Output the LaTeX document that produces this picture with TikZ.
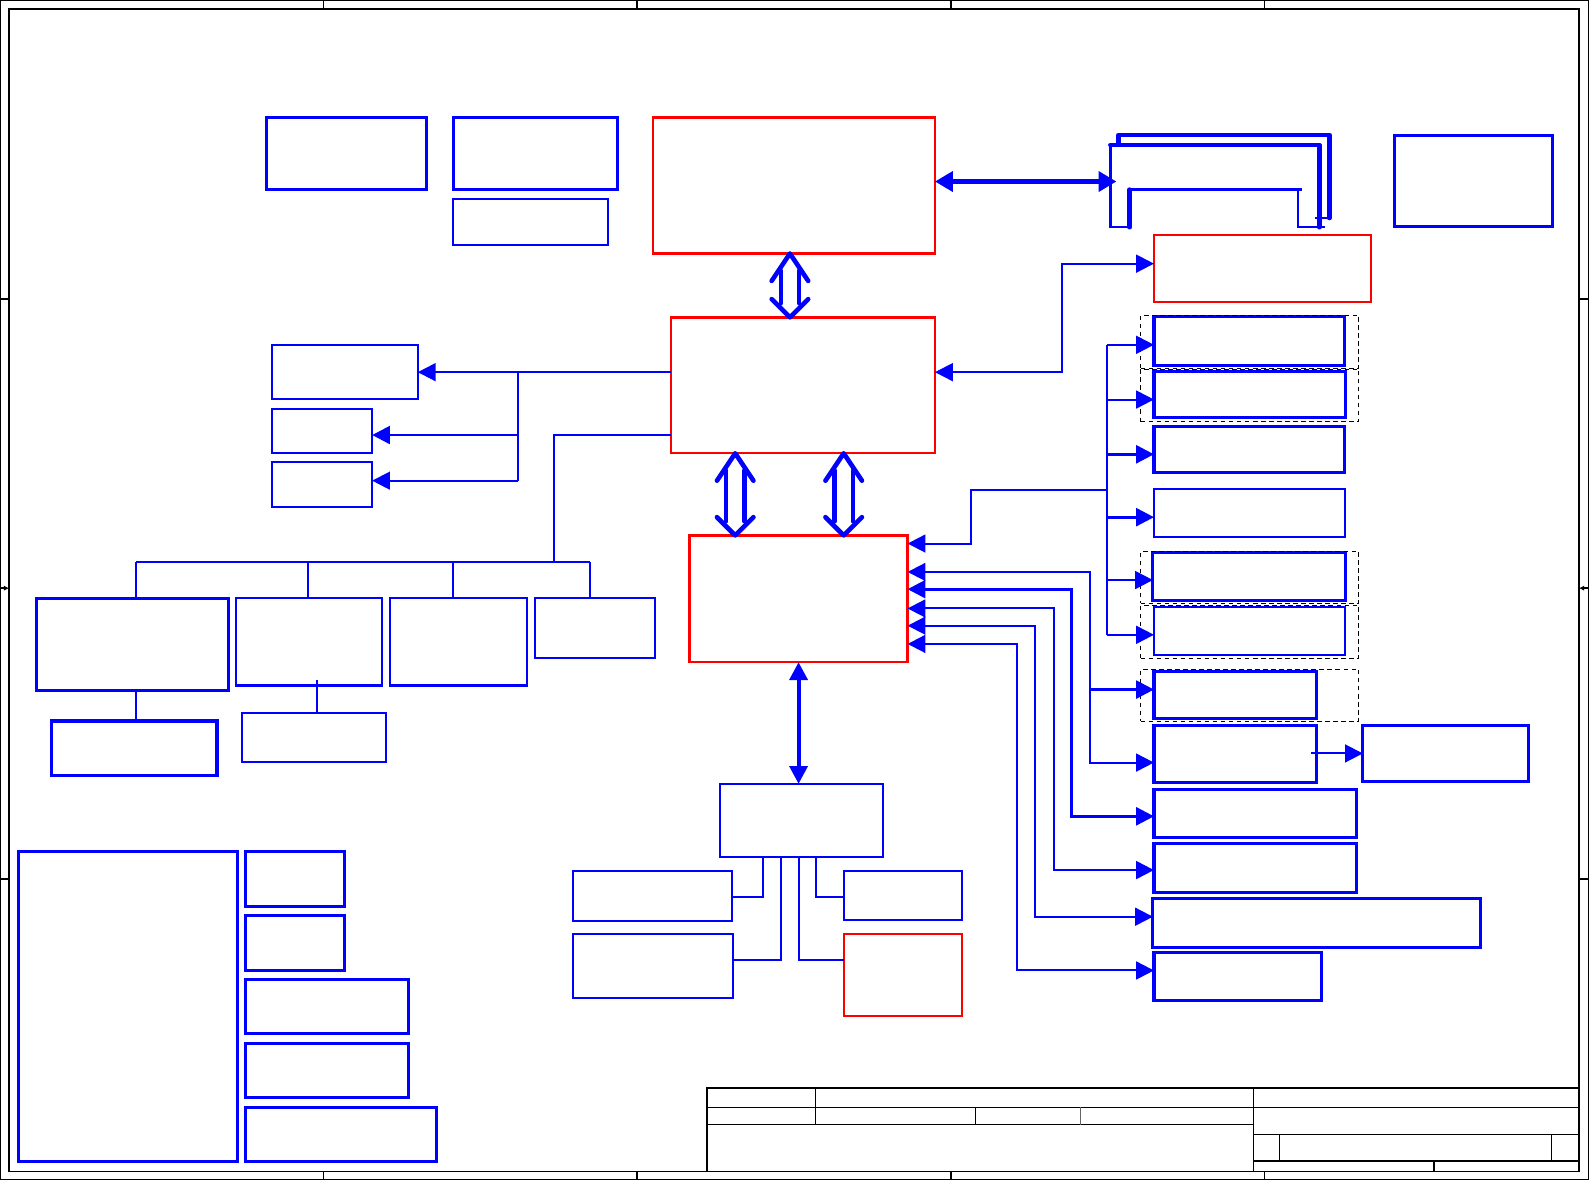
\documentclass[tikz,border=0pt]{standalone}
\usetikzlibrary{arrows.meta}
\newcommand{\bxn}[6]{\node[#2, minimum width={(#5-#3)*0.02cm}, minimum height={(#6-#4)*0.02cm}, anchor=north west] (#1) at (#3,#4) {};}
\newcommand{\dblarr}[2]{\begin{scope}[shift={(#1)}]
 \draw[dbl] (-18,27) -- (0,0) -- (18,27);
 \draw[dbl] (-9,17) -- (-9,{#2-14});
 \draw[dbl] (9,17) -- (9,{#2-14});
 \draw[dbl] (-18,{#2-18}) -- (0,#2) -- (18,{#2-18});
\end{scope}}
\begin{document}
\begin{tikzpicture}[x=0.02cm, y=-0.02cm,
 bb/.style={draw=blue, line width=1.7pt, inner sep=0pt, outer sep=0pt},
 bm/.style={draw=blue, line width=1.15pt, inner sep=0pt, outer sep=0pt},
 rb/.style={draw=red, line width=1.3pt, inner sep=0pt, outer sep=0pt},
 grp/.style={draw=black, dash pattern=on 2.5pt off 2pt, line width=0.5pt, inner sep=0pt, outer sep=0pt},
 conn/.style={draw=blue, line width=1.15pt},
 connb/.style={draw=blue, line width=1.6pt},
 busar/.style={draw=blue, line width=2.8pt, >={Triangle[length=10pt,width=11pt]}},
 busarb/.style={draw=blue, line width=2.2pt, >={Triangle[length=10pt,width=10pt]}},
 clthick/.style={draw=blue, line width=2.6pt, line cap=round, line join=round},
 clthin/.style={draw=blue, line width=1.3pt},
 dbl/.style={draw=blue, line width=2.6pt, line cap=round, line join=round},
 frame/.style={draw=black, line width=0.8pt},
 thinframe/.style={draw=black!60, line width=0.4pt},
 >={Triangle[length=10pt,width=10pt]}]
\useasboundingbox (0,0) rectangle (1567,1164);
% sheet frame
\draw[frame] (0.7,0.7) rectangle (1566.3,1163.3);
\draw[frame] (9,9) rectangle (1557,1155);
\foreach \x in {319,628,938,1247} {\draw[frame] (\x,0) -- (\x,9); \draw[frame] (\x,1155) -- (\x,1164);}
\foreach \y in {295,867} {\draw[frame] (0,\y) -- (9,\y); \draw[frame] (1557,\y) -- (1567,\y);}
\draw[frame,-{Latex[length=3pt,width=3pt]}] (0,580) -- (9,580);
\draw[frame,-{Latex[length=3pt,width=3pt]}] (1567,580) -- (1557,580);
% title block
\draw[frame] (697,1155) -- (697,1073) -- (1557,1073);
\draw[frame] (697,1092) -- (1557,1092);
\draw[frame] (697,1109) -- (1236,1109);
\draw[frame] (804,1073) -- (804,1109);
\draw[frame] (962,1092) -- (962,1109);
\draw[thinframe] (1065,1092) -- (1065,1109);
\draw[frame] (1236,1073) -- (1236,1155);
\draw[frame] (1236,1119) -- (1557,1119);
\draw[frame] (1236,1145) -- (1557,1145);
\draw[frame] (1262,1119) -- (1262,1145);
\draw[frame] (1530,1119) -- (1530,1145);
\draw[frame] (1414,1145) -- (1414,1155);
% boxes
\bxn{b1}{bb}{263}{116}{421}{187}
\bxn{b2}{bb}{447}{116}{609}{187}
\bxn{b3}{bm}{447}{196}{600}{242}
\bxn{r1}{rb}{644}{116}{922}{250}
\bxn{b4}{bb}{1375}{134}{1531}{223}
\bxn{r2}{rb}{1138}{232}{1352}{298}
\bxn{r3}{rb}{662}{313}{922}{447}
\bxn{b5}{bm}{268}{340}{412}{393}
\bxn{b6}{bm}{268}{403}{367}{447}
\bxn{b7}{bm}{268}{456}{367}{500}
\bxn{b8}{bb}{36}{590}{225}{681}
\bxn{b9}{bm}{233}{590}{377}{676}
\bxn{b10}{bm}{385}{590}{520}{676}
\bxn{b11}{bm}{528}{590}{646}{649}
\bxn{b12}{bb}{51}{711}{214}{765}
\bxn{b13}{bm}{239}{703}{381}{751}
\bxn{r4}{rb}{680}{528}{895}{653}
\bxn{b14}{bm}{710}{773}{871}{845}
\bxn{b15}{bm}{565}{859}{722}{908}
\bxn{b16}{bm}{565}{921}{723}{984}
\bxn{b17}{bm}{832}{859}{949}{907}
\bxn{r5}{rb}{832}{921}{949}{1002}
\bxn{c1}{bb}{1138}{312}{1326}{360}
\bxn{c2}{bb}{1138}{366}{1327}{412}
\bxn{c3}{bb}{1138}{421}{1326}{466}
\bxn{c4}{bm}{1138}{482}{1326}{530}
\bxn{c5}{bb}{1137}{545}{1327}{592}
\bxn{c6}{bm}{1138}{599}{1326}{646}
\bxn{c7}{bb}{1138}{662}{1298}{709}
\bxn{c8}{bb}{1138}{715}{1298}{772}
\bxn{c9}{bb}{1344}{715}{1507}{771}
\bxn{c10}{bb}{1138}{779}{1338}{826}
\bxn{c11}{bb}{1138}{832}{1338}{880}
\bxn{c12}{bb}{1137}{886}{1460}{934}
\bxn{c13}{bb}{1138}{939}{1303}{987}
\bxn{d1}{bb}{18}{840}{234}{1145}
\bxn{d2}{bb}{242}{840}{340}{894}
\bxn{d3}{bb}{242}{903}{340}{957}
\bxn{d4}{bb}{242}{966}{403}{1019}
\bxn{d5}{bb}{242}{1029}{403}{1082}
\bxn{d6}{bb}{242}{1092}{430}{1145}
% dashed groups
\bxn{g1}{grp}{1125}{311}{1340}{363}
\bxn{g2}{grp}{1125}{364}{1340}{416}
\bxn{g3}{grp}{1125}{544}{1340}{595}
\bxn{g4}{grp}{1125}{597}{1340}{649}
\bxn{g5}{grp}{1125}{660}{1340}{711}
% R1 <-> bus cluster
\coordinate (cl) at (1101,179);
\draw[busar,<->] (r1.east |- cl) -- (cl);
\draw[clthick] (1103,141) -- (1103,133) -- (1311,133) -- (1311,215);
\draw[clthick] (1095,143) -- (1301,143) -- (1301,224);
\draw[clthin] (1095,143) -- (1095,224) -- (1114,224);
\draw[clthick] (1114,187) -- (1114,224);
\draw[clthin] (1114,187) -- (1284,187);
\draw[clthin] (1280,187) -- (1280,224) -- (1307,224);
\draw[clthin] (1297,215) -- (1311,215);
% wide double arrows
\coordinate (a1) at (779,0);
\coordinate (a2) at (725,0);
\coordinate (a3) at (832,0);
\dblarr{r1.south -| a1}{63}
\dblarr{r3.south -| a2}{81}
\dblarr{r3.south -| a3}{81}
% R3 <-> R2
\coordinate (j1) at (1047,367);
\coordinate (j2) at (1047,260);
\draw[conn,<->] (r3.east |- j1) -- (j1) -- (j2) -- (r2.west |- j2);
% R3 -> B5, B6, B7
\coordinate (k1) at (511,367);
\coordinate (k2) at (511,429);
\coordinate (k3) at (511,474);
\draw[conn,->] (r3.west |- k1) -- (b5.east |- k1);
\draw[conn] (k1) -- (k3);
\draw[connb,->] (k2) -- (b6.east |- k2);
\draw[conn,->] (k3) -- (b7.east |- k3);
% R3 -> lower-left bus
\coordinate (m1) at (546,429);
\coordinate (m2) at (546,554);
\coordinate (n1) at (134,554);
\coordinate (n2) at (304,554);
\coordinate (n3) at (447,554);
\coordinate (n4) at (582,554);
\coordinate (n5) at (313,0);
\draw[conn] (r3.west |- m1) -- (m1) -- (m2);
\draw[conn] (n1) -- (n4);
\draw[conn] (n1) -- (b8.north -| n1);
\draw[conn] (n2) -- (b9.north -| n2);
\draw[conn] (n3) -- (b10.north -| n3);
\draw[conn] (n4) -- (b11.north -| n4);
\draw[conn] (b8.south -| n1) -- (b12.north -| n1);
\draw[conn] ([yshift=0.1cm]b9.south -| n5) -- (b13.north -| n5);
% R4 <-> B14
\draw[busarb,<->] (r4.south) -- (r4.south |- b14.north);
% B14 to its neighbours
\coordinate (s1) at (752,885);
\coordinate (s2) at (770,947);
\coordinate (s3) at (788,947);
\coordinate (s4) at (805,885);
\draw[conn] (b14.south -| s1) -- (s1) -- (b15.east |- s1);
\draw[conn] (b14.south -| s2) -- (s2) -- (b16.east |- s2);
\draw[conn] (b14.south -| s3) -- (s3) -- (r5.west |- s3);
\draw[conn] (b14.south -| s4) -- (s4) -- (b17.west |- s4);
% R4 <- right bus -> C1..C6
\coordinate (q1) at (958,536);
\coordinate (q2) at (958,483);
\coordinate (q3) at (1092,483);
\draw[conn,<-] (r4.east |- q1) -- (q1) -- (q2) -- (q3);
\coordinate (t1) at (1092,340);
\coordinate (t2) at (1092,394);
\coordinate (t3) at (1092,448);
\coordinate (t4) at (1092,510);
\coordinate (t5) at (1092,572);
\coordinate (t6) at (1092,626);
\draw[conn] (t1) -- (t6);
\draw[conn,->] (t1) -- (c1.west |- t1);
\draw[conn,->] (t2) -- (c2.west |- t2);
\draw[connb,->] (t3) -- (c3.west |- t3);
\draw[connb,->] (t4) -- (c4.west |- t4);
\draw[conn,->] (t5) -- (c5.west |- t5);
\draw[conn,->] (t6) -- (c6.west |- t6);
% R4 <-> C7..C13
\coordinate (u1) at (1075,564);
\coordinate (u1a) at (1075,680);
\coordinate (u1b) at (1075,752);
\draw[conn,<->] (r4.east |- u1) -- (u1) -- (u1b) -- (c8.west |- u1b);
\draw[connb,->] (u1a) -- (c7.west |- u1a);
\coordinate (u2) at (1057,581);
\coordinate (u2b) at (1057,805);
\draw[connb,<->] (r4.east |- u2) -- (u2) -- (u2b) -- (c10.west |- u2b);
\coordinate (u3) at (1039,600);
\coordinate (u3b) at (1039,858);
\draw[conn,<->] (r4.east |- u3) -- (u3) -- (u3b) -- (c11.west |- u3b);
\coordinate (u4) at (1021,617);
\coordinate (u4b) at (1021,904);
\draw[conn,<->] (r4.east |- u4) -- (u4) -- (u4b) -- (c12.west |- u4b);
\coordinate (u5) at (1003,635);
\coordinate (u5b) at (1003,957);
\draw[conn,<->] (r4.east |- u5) -- (u5) -- (u5b) -- (c13.west |- u5b);
% C8 -> C9
\coordinate (v1) at (1293,743);
\draw[conn,->] (v1) -- (c9.west |- v1);
\end{tikzpicture}
\end{document}
